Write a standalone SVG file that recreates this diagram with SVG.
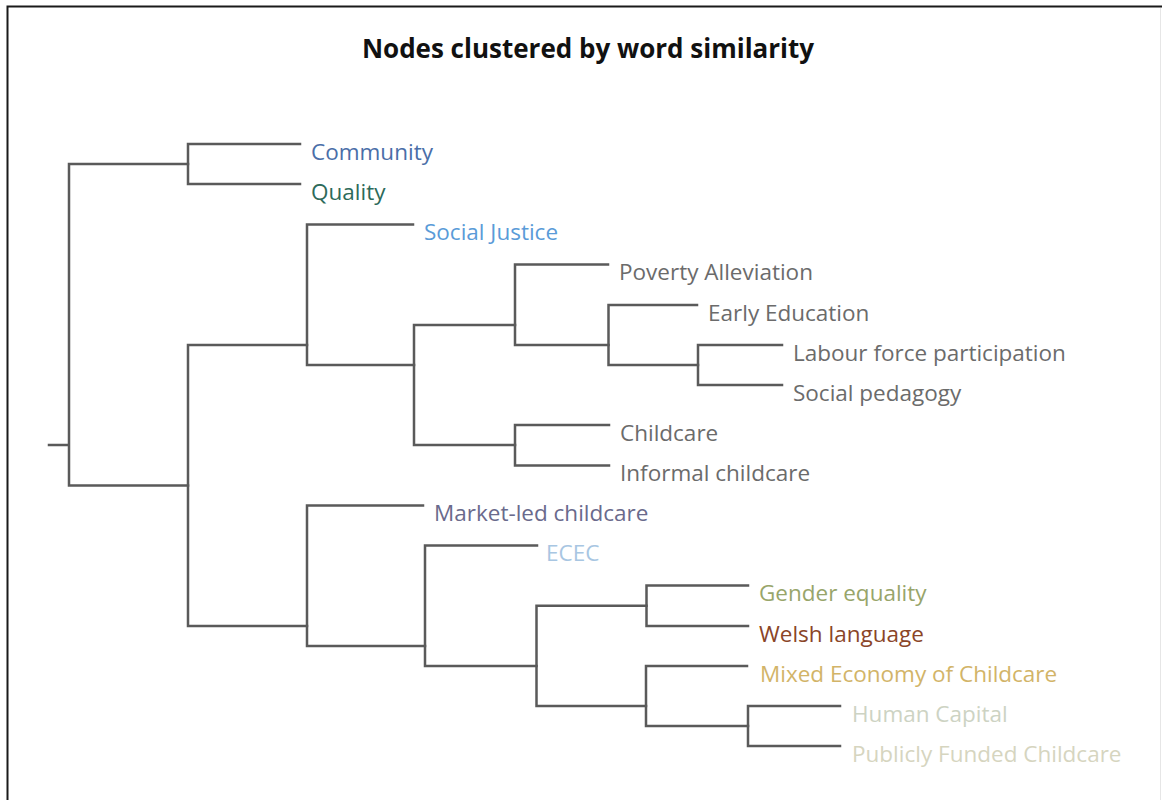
<svg xmlns="http://www.w3.org/2000/svg" width="1162" height="800" viewBox="0 0 1162 800">
<style>
.lbl{font-family:"Open Sans","Noto Sans","Liberation Sans",sans-serif;font-size:22.5px}
.title{font-family:"Open Sans","Noto Sans","Liberation Sans",sans-serif;font-size:26px;font-weight:700;fill:#111}
.conn{fill:none;stroke:#5a5a5a;stroke-width:2.5;stroke-linecap:square}
</style>
<rect x="0" y="0" width="1162" height="800" fill="#ffffff"/>
<path d="M7.5,800 V6.5 H1162" fill="none" stroke="#1a1a1a" stroke-width="2"/>
<path d="M1160.5,8 V800" fill="none" stroke="#e6e6e6" stroke-width="1"/>
<text class="title" x="588" y="58" text-anchor="middle">Nodes clustered by word similarity</text>
<g id="connectors" class="conn">
<path d="M49,445 H69 M69,164 V485.5 M69,164 H188 M69,485.5 H188"/>
<path d="M188,144 V184 M188,144 H300 M188,184 H300"/>
<path d="M188,345 V626 M188,345 H307 M188,626 H307"/>
<path d="M307,224.5 V365 M307,224.5 H413 M307,365 H414"/>
<path d="M414,325 V445 M414,325 H515 M414,445 H515"/>
<path d="M515,264.5 V345 M515,264.5 H608 M515,345 H608.5"/>
<path d="M608.5,305 V365 M608.5,305 H697 M608.5,365 H698"/>
<path d="M698,345 V385 M698,345 H782 M698,385 H782"/>
<path d="M515,425 V465.5 M515,425 H609 M515,465.5 H609"/>
<path d="M307,505.5 V646 M307,505.5 H423 M307,646 H425"/>
<path d="M425,545.5 V666 M425,545.5 H537 M425,666 H536.5"/>
<path d="M536.5,605.75 V706 M536.5,605.75 H646.5 M536.5,706 H646"/>
<path d="M646.5,585.5 V626 M646.5,585.5 H748 M646.5,626 H748"/>
<path d="M646,666 V726 M646,666 H747 M646,726 H748"/>
<path d="M748,706 V746 M748,706 H840 M748,746 H840"/>
</g>
<g id="node-community"><text class="lbl" x="311" y="159.5" fill="#4a6ea8">Community</text></g>
<g id="node-quality"><text class="lbl" x="311" y="199.5" fill="#2d6a5a">Quality</text></g>
<g id="node-social-justice"><text class="lbl" x="424" y="240" fill="#5a9bd8">Social Justice</text></g>
<g id="node-poverty-alleviation"><text class="lbl" x="619" y="280" fill="#6b6b6b">Poverty Alleviation</text></g>
<g id="node-early-education"><text class="lbl" x="708" y="320.5" fill="#6b6b6b">Early Education</text></g>
<g id="node-labour-force-participation"><text class="lbl" x="793" y="360.5" fill="#6b6b6b">Labour force participation</text></g>
<g id="node-social-pedagogy"><text class="lbl" x="793" y="400.5" fill="#6b6b6b">Social pedagogy</text></g>
<g id="node-childcare"><text class="lbl" x="620" y="440.5" fill="#6b6b6b">Childcare</text></g>
<g id="node-informal-childcare"><text class="lbl" x="620" y="481" fill="#6b6b6b">Informal childcare</text></g>
<g id="node-market-led-childcare"><text class="lbl" x="434" y="521" fill="#6a6a8c">Market-led childcare</text></g>
<g id="node-ecec"><text class="lbl" x="546" y="561" fill="#a8c6e2">ECEC</text></g>
<g id="node-gender-equality"><text class="lbl" x="759" y="601" fill="#98a56a">Gender equality</text></g>
<g id="node-welsh-language"><text class="lbl" x="759" y="641.5" fill="#8a4528">Welsh language</text></g>
<g id="node-mixed-economy"><text class="lbl" x="760" y="681.5" fill="#d2b468">Mixed Economy of Childcare</text></g>
<g id="node-human-capital"><text class="lbl" x="852" y="721.5" fill="#cdd3c3">Human Capital</text></g>
<g id="node-publicly-funded-childcare"><text class="lbl" x="852" y="761.5" fill="#d6d5bf">Publicly Funded Childcare</text></g>
</svg>
